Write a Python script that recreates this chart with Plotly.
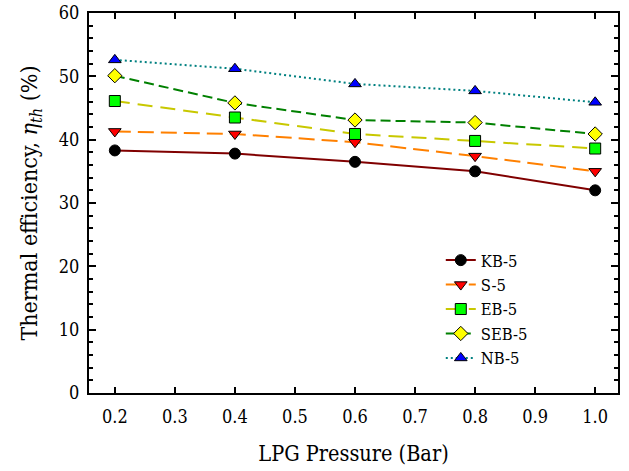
import plotly.graph_objects as go

pressure = [0.2, 0.4, 0.6, 0.8, 1.0]
kb5 = [38.3, 37.8, 36.5, 35.0, 32.0]
s5 = [41.3, 40.9, 39.6, 37.4, 35.0]
eb5 = [46.1, 43.5, 40.9, 39.8, 38.6]
seb5 = [50.1, 45.8, 43.1, 42.7, 40.9]
nb5 = [52.6, 51.2, 48.8, 47.7, 45.9]

series = [
    ("KB-5", kb5, "#800000", "solid", "circle", "black"),
    ("S-5", s5, "#FF8000", "16px,7px", "triangle-down", "red"),
    ("EB-5", eb5, "#C8C800", "15px,8px", "square", "#00FF00"),
    ("SEB-5", seb5, "#008000", "10px,5px", "diamond", "yellow"),
    ("NB-5", nb5, "#008080", "2px,3px", "triangle-up", "blue"),
]

fig = go.Figure()
for name, vals, lc, dash, sym, mc in series:
    fig.add_trace(go.Scatter(
        x=pressure, y=vals, name=name, mode="lines+markers",
        line=dict(color=lc, width=2, dash=dash),
        marker=dict(symbol=sym, size=11, color=mc,
                    line=dict(color="black", width=1)),
    ))

font = "DejaVu Serif Condensed, DejaVu Serif"
fig.update_layout(
    width=629, height=471,
    margin=dict(l=89, r=11, t=13, b=78, autoexpand=False),
    paper_bgcolor="white", plot_bgcolor="white",
    font=dict(family=font, size=17, color="black"),
    showlegend=True,
    legend=dict(x=0.665, y=0.395, xanchor="left", yanchor="top",
                bgcolor="rgba(0,0,0,0)", font=dict(family=font, size=16.5),
                tracegroupgap=0),
)
fig.update_xaxes(
    range=[0.157, 1.038], tickvals=[0.2, 0.3, 0.4, 0.5, 0.6, 0.7, 0.8, 0.9, 1.0],
    ticktext=["0.2", "0.3", "0.4", "0.5", "0.6", "0.7", "0.8", "0.9", "1.0"],
    ticks="inside", ticklen=6, tickwidth=2, tickcolor="black",
    showline=True, linecolor="black", linewidth=2, mirror="ticks",
    showgrid=False, zeroline=False, automargin=False, ticklabelstandoff=6,
    tickfont=dict(family=font, size=18),
    title=dict(text="LPG Pressure (Bar)", font=dict(family=font, size=21.5), standoff=20),
)
fig.update_yaxes(
    range=[0, 60], dtick=10,
    ticks="inside", ticklen=7, tickwidth=2, tickcolor="black",
    minor=dict(dtick=2, ticks="inside", ticklen=4, tickwidth=1.5, tickcolor="black"),
    showline=True, linecolor="black", linewidth=2, mirror="ticks",
    showgrid=False, zeroline=False, automargin=False, ticklabelstandoff=4,
    tickfont=dict(family=font, size=18),
    title=dict(text="Thermal efficiency, <i>η<sub>th</sub></i> (%)", font=dict(family=font, size=23), standoff=15),
)
fig.write_html("out.html", config={"displayModeBar": False},
               post_script="document.body.style.margin='0';")
